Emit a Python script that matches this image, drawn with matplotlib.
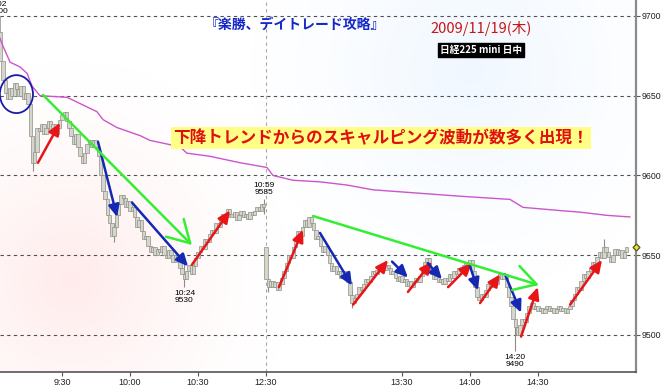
import numpy as np
import matplotlib
matplotlib.use("Agg")
import matplotlib.pyplot as plt
from matplotlib.patches import Ellipse

plt.rcParams['font.family'] = ['Liberation Sans', 'DejaVu Sans']
JP = ['Noto Sans CJK JP', 'DejaVu Sans']

# minute index: 9:00 = 0, morning to 10:59 = 119, afternoon 12:30 = 120 ...
am_open = 9700
am_close = [9690, 9672, 9660, 9652, 9648, 9655, 9650, 9658, 9654, 9650,
            9656, 9648, 9652, 9645, 9625, 9608, 9615, 9630, 9628, 9632,
            9626, 9630, 9634, 9628, 9632, 9626, 9630, 9635, 9638, 9640,
            9634, 9630, 9625, 9620, 9626, 9618, 9612, 9608, 9614, 9620,
            9622, 9618, 9622, 9618, 9612, 9600, 9590, 9585, 9575, 9570,
            9562, 9568, 9575, 9582, 9588, 9586, 9580, 9584, 9578, 9580,
            9574, 9568, 9572, 9565, 9560, 9562, 9556, 9552, 9555, 9550,
            9554, 9552, 9556, 9550, 9548, 9553, 9550, 9546, 9550, 9547,
            9542, 9538, 9535, 9540, 9544, 9538, 9543, 9548, 9552, 9556,
            9554, 9560, 9558, 9563, 9566, 9564, 9570, 9568, 9572, 9576,
            9574, 9579, 9576, 9574, 9577, 9572, 9575, 9578, 9574, 9576,
            9573, 9577, 9575, 9578, 9580, 9578, 9582, 9580]
pm_open = 9555
pm_close = [9535, 9530, 9534, 9530, 9533, 9528, 9532, 9536, 9540, 9545,
            9550, 9548, 9555, 9560, 9565, 9562, 9568, 9572, 9568, 9574,
            9570, 9566, 9560, 9562, 9556, 9552, 9556, 9550, 9545, 9540,
            9543, 9538, 9540, 9536, 9540, 9537, 9533, 9525, 9520, 9523,
            9526, 9530, 9528, 9532, 9535, 9533, 9537, 9540, 9538, 9541,
            9540, 9543, 9541, 9544, 9542, 9538, 9540, 9536, 9534, 9537,
            9533, 9535, 9531, 9534, 9530, 9533, 9536, 9533, 9537, 9542,
            9546, 9548, 9542, 9538, 9535, 9537, 9533, 9535, 9532, 9536,
            9534, 9538, 9536, 9540, 9538, 9542, 9540, 9544, 9546, 9543,
            9547, 9540, 9530, 9524, 9522, 9526, 9524, 9528, 9532, 9530,
            9534, 9532, 9536, 9538, 9535, 9538, 9530, 9524, 9518, 9510,
            9505, 9500, 9506, 9510, 9508, 9514, 9518, 9520, 9516, 9518,
            9515, 9517, 9514, 9516, 9518, 9515, 9517, 9514, 9516, 9518,
            9515, 9517, 9514, 9516, 9518, 9522, 9526, 9530, 9528, 9534,
            9538, 9536, 9540, 9542, 9546, 9544, 9549, 9552, 9548, 9555,
            9552, 9549, 9546, 9550, 9554, 9550, 9553, 9548, 9552, 9555]

# a few visible wicks
wick_idx = [2, 17, 53, 84, 119, 121, 158, 230, 269]
wick_lo = [9688, 9603, 9558, 9530, 9576, 9527, 9517, 9490, 9548]
wick_hi = [9700, 9620, 9570, 9546, 9585, 9536, 9528, 9508, 9560]

# purple average line
avg_idx = [2.65, 4.0, 7.1, 11.5, 14.6, 16.8, 20.3, 32.2, 41.0, 45.4, 48.1, 54.3,
           64.4, 68.8, 82.0, 85.1, 95.3, 108.5, 120.4, 123.1, 131.9, 143.8,
           155.7, 167.2, 205.6, 227.6, 233.4, 249.7, 258.5, 270.4, 280.5]
avg_val = [9686, 9681, 9671, 9668, 9664, 9656, 9650, 9649, 9643, 9640, 9635, 9630,
           9625, 9622, 9618, 9614, 9612, 9608, 9605, 9600, 9597, 9596,
           9594, 9591, 9587, 9585, 9580, 9578, 9577, 9575, 9574]

# arrows (start idx, start price, end idx, end price)
red_arrows = [(19.4, 9608, 29.1, 9633), (87.3, 9544, 104.1, 9578),
              (125.7, 9530, 136.3, 9566), (158.4, 9519, 173.8, 9547),
              (182.6, 9527, 193.2, 9546), (200.3, 9530, 210.8, 9545),
              (214.4, 9520, 223.2, 9538), (232.5, 9499, 239.9, 9530),
              (254.1, 9519, 268.2, 9547)]
blue_arrows = [(45.9, 9621, 54.3, 9574), (60.9, 9583, 85.6, 9543),
               (143.8, 9564, 157.9, 9531), (175.6, 9546, 182.6, 9536),
               (191.4, 9545, 197.6, 9535), (210.0, 9543, 213.5, 9528),
               (225.4, 9538, 232.5, 9514)]
green_arrows = [(21.6, 9650.5, 87.3, 9556.4), (140.7, 9574.6, 240.4, 9531.3)]

tick_pos = [30, 60, 90, 120, 180, 210, 240]
tick_lab = ['9:30', '10:00', '10:30', '12:30', '13:30', '14:00', '14:30']
yticks = [9500, 9550, 9600, 9650, 9700]

W, H = 663, 389
fig = plt.figure(figsize=(W / 100, H / 100), dpi=100)
ax = fig.add_axes([0, 17 / H, 636 / W, 372 / H])
ax.set_xlim(2.65, 283.2)
ax.set_ylim(9476.8, 9710)

# faint background watermark
gy, gx = np.mgrid[0:372, 0:636]
wp = np.clip(1 - np.hypot(gx - 70, gy - 280) / 220, 0, 1) ** 1.5
wb = np.clip(1 - np.hypot(gx - 470, gy - 70) / 220, 0, 1) ** 1.3
img = np.ones((372, 636, 3))
img[..., 1] -= wp * 0.08
img[..., 2] -= wp * 0.08
img[..., 0] -= wb * 0.06
img[..., 1] -= wb * 0.03
ax.imshow(img, extent=[0, 1, 0, 1], transform=ax.transAxes, aspect='auto', zorder=0)

for y in yticks:
    ax.axhline(y, color='#505050', lw=0.8, ls=(0, (3, 3)), zorder=1)
ax.axvline(120, color='#a8a8a8', lw=0.8, ls=(0, (3, 3)), zorder=1)

idx = np.r_[np.arange(2, 120), np.arange(120, 280)]
close = np.array(am_close + pm_close, dtype=float)
opn = np.r_[am_open, am_close[:-1], pm_open, pm_close[:-1]].astype(float)
lo = np.minimum(opn, close)
hi = np.maximum(opn, close)
ax.vlines(wick_idx, wick_lo, wick_hi, color='#8c8c84', lw=0.8, zorder=2)
ax.bar(idx, np.maximum(hi - lo, 0.7), bottom=lo, width=1.5, color='#d4d6cc',
       edgecolor='#8e9088', lw=0.5, zorder=3)

ax.plot(avg_idx, avg_val, color='#cc55cc', lw=1, zorder=4)

ax.add_patch(Ellipse((9.9, 9651), 14.6, 23.8, fill=False, ec='#1a1aa8', lw=1.3, zorder=6))

for x0, y0, x1, y1 in red_arrows:
    ax.annotate('', xy=(x1, y1), xytext=(x0, y0),
                arrowprops=dict(arrowstyle='-|>,head_length=1.2,head_width=0.55', color='#e81418',
                                lw=1.8, mutation_scale=6, shrinkA=0, shrinkB=0), zorder=7)
for x0, y0, x1, y1 in blue_arrows:
    ax.annotate('', xy=(x1, y1), xytext=(x0, y0),
                arrowprops=dict(arrowstyle='-|>,head_length=1.2,head_width=0.55', color='#1428b4',
                                lw=1.8, mutation_scale=6, shrinkA=0, shrinkB=0), zorder=7)
for x0, y0, x1, y1 in green_arrows:
    ax.annotate('', xy=(x1, y1), xytext=(x0, y0),
                arrowprops=dict(arrowstyle='->,head_length=1.56,head_width=0.9', color='#33ee33',
                                lw=1.8, mutation_scale=10, shrinkA=0, shrinkB=0), zorder=7)

# high / low labels
ax.text(2, 9700.5, '9:02\n9700', ha='center', va='bottom', fontsize=6, linespacing=0.95)
ax.text(84, 9528, '10:24\n9530', ha='center', va='top', fontsize=6, linespacing=0.95)
ax.text(119, 9587, '10:59\n9585', ha='center', va='bottom', fontsize=6, linespacing=0.95)
ax.text(230, 9488, '14:20\n9490', ha='center', va='top', fontsize=6, linespacing=0.95)

ax.plot([283.2], [close[-1]], marker='D', ms=3.5, mfc='#f0e040', mec='#606020',
        clip_on=False, zorder=8)

ax.set_xticks(tick_pos)
ax.set_xticklabels(tick_lab, fontsize=6.5, color='#222222')
ax.set_yticks(yticks)
ax.set_yticklabels([str(v) for v in yticks], fontsize=6.3, color='#222222')
ax.yaxis.tick_right()
ax.tick_params(axis='both', length=3, width=0.8, color='#555555', pad=1)
for s in ['left', 'top']:
    ax.spines[s].set_visible(False)
ax.spines['right'].set_color('#8a8a8a')
ax.spines['right'].set_linewidth(1.6)
ax.spines['bottom'].set_color('#555555')
ax.spines['bottom'].set_linewidth(1.2)

def fx(x):
    return x / W

def fy(y):
    return 1 - y / H

fig.text(fx(295), fy(25), '『楽勝、デイトレード攻略』', family=JP, fontsize=10, fontweight='bold',
         color='#1428c8', ha='center', va='center')
fig.text(fx(481), fy(28), '2009/11/19(木)', family=JP, fontsize=10.5, color='#c81414',
         ha='center', va='center')
fig.text(fx(481), fy(50), '日経225 mini 日中', family=JP, fontsize=7, fontweight='bold',
         color='white', ha='center', va='center',
         bbox=dict(boxstyle='square,pad=0.2', fc='black', ec='black'))
fig.text(fx(381), fy(138), '下降トレンドからのスキャルピング波動が数多く出現！', family=JP,
         fontsize=12, fontweight='bold', color='#e01010', ha='center', va='center',
         bbox=dict(boxstyle='square,pad=0.12', fc='#ffff88', ec='none'))

fig.savefig('out.png', dpi=100)
